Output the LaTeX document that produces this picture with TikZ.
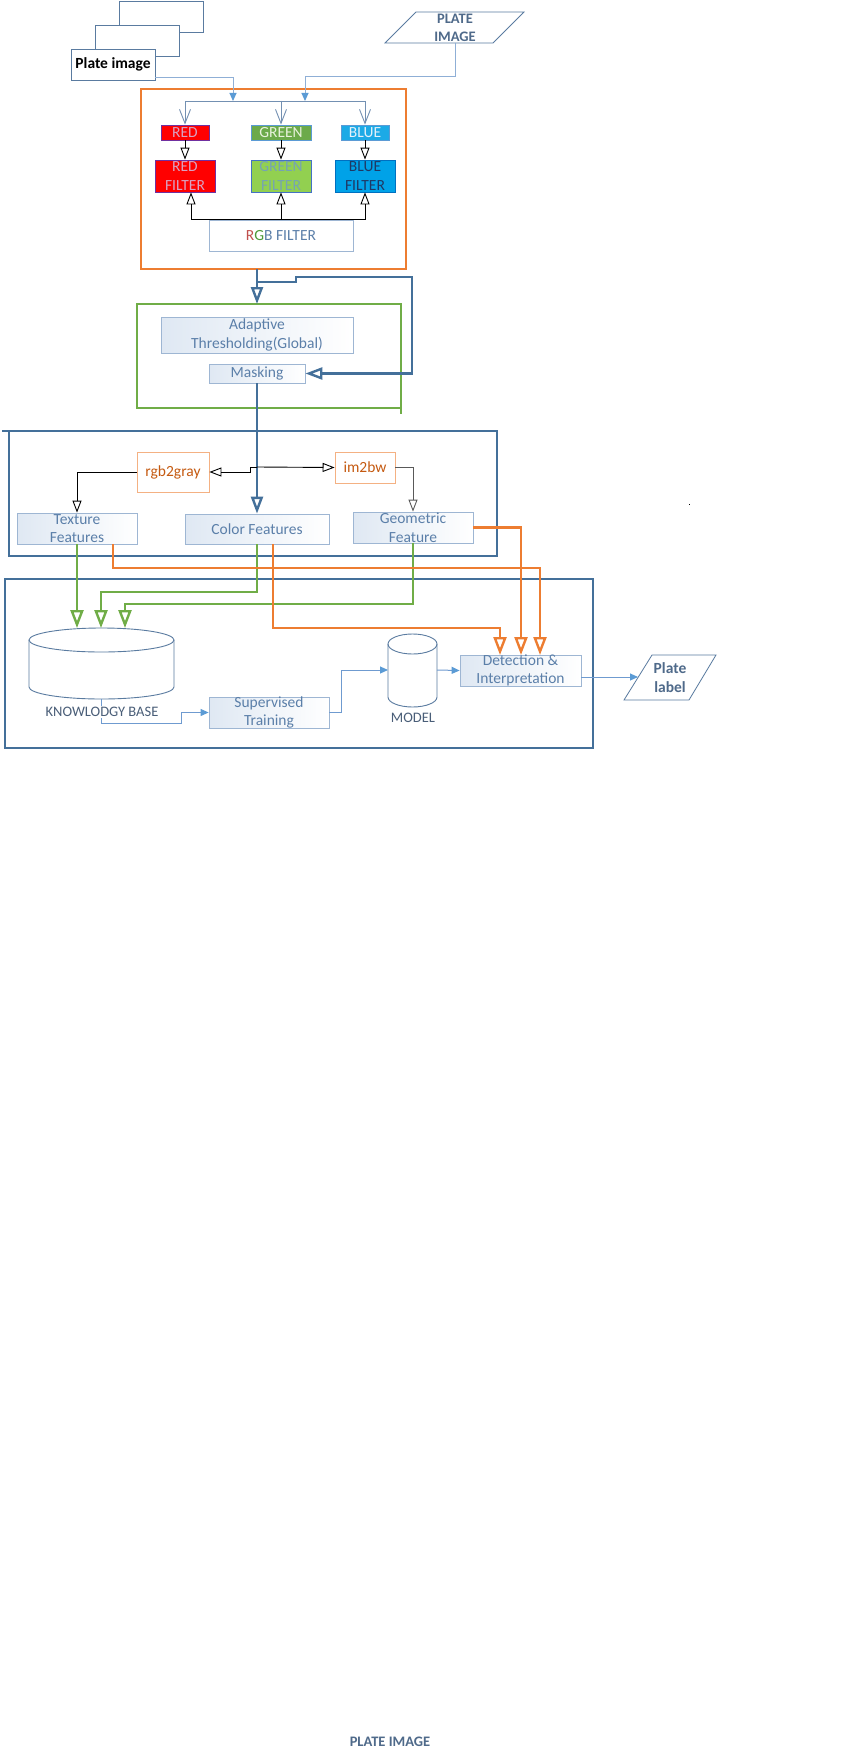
\documentclass[tikz,border=0pt]{standalone}
\usepackage{fontspec}
\setmainfont{Carlito}
\usepackage{tikz}
\usetikzlibrary{arrows.meta}
\definecolor{orng}{HTML}{ED7D31}
\definecolor{bframe}{HTML}{44709A}
\definecolor{gframe}{HTML}{70AD47}
\definecolor{lconn}{HTML}{8FAFD6}
\definecolor{cconn}{HTML}{6F9BD0}
\definecolor{tipfill}{HTML}{5B9BD5}
\definecolor{barbline}{HTML}{7390B2}
\definecolor{boxline}{HTML}{9EB6D3}
\definecolor{boxfill}{HTML}{DFE8F3}
\definecolor{txtblue}{HTML}{5B7FA9}
\definecolor{slate}{HTML}{4F6A8A}
\definecolor{lblgray}{HTML}{4A5E78}
\definecolor{pageline}{HTML}{5A7BA0}
\definecolor{ftline}{HTML}{F4B183}
\definecolor{fttext}{HTML}{C55A11}
\definecolor{redtxt}{HTML}{D9A2C2}
\definecolor{redline}{HTML}{7030A0}
\definecolor{grnfill}{HTML}{6CAA4A}
\definecolor{grntxt}{HTML}{E8F2DC}
\definecolor{bluefill}{HTML}{1CAAE6}
\definecolor{bluetxt}{HTML}{E4F1FA}
\definecolor{bluebord}{HTML}{5B9BD5}
\definecolor{gfiltfill}{HTML}{92D050}
\definecolor{gfilttxt}{HTML}{76A3B3}
\definecolor{gfiltbord}{HTML}{4472C4}
\definecolor{bfiltfill}{HTML}{00A2E8}
\definecolor{bfilttxt}{HTML}{1F3864}
\definecolor{bfiltbord}{HTML}{0070C0}
\definecolor{rgbr}{HTML}{C0504D}
\definecolor{rgbg}{HTML}{4E9A3A}
\definecolor{darkgray}{HTML}{595959}
\newcommand{\dgfont}{\fontsize{15.5}{18.5}\selectfont}
\newcommand{\smfont}{\fontsize{14.5}{18}\selectfont}

\begin{document}
\begin{tikzpicture}[x=1pt,y=-1pt,
  page/.style={draw=pageline, line width=0.8pt, fill=white, minimum width=84pt, minimum height=31pt, inner sep=0pt},
  procbox/.style={draw=boxline, line width=0.8pt, left color=boxfill, right color=white, inner sep=0pt},
  txt/.style={text=txtblue, font=\dgfont, align=center, inner sep=0pt},
  ftbox/.style={draw=ftline, line width=0.8pt, fill=white, text=fttext, font=\dgfont, inner sep=0pt},
  colbox/.style={line width=0.8pt, font=\dgfont, align=center, inner sep=0pt},
  lbl/.style={text=lblgray, font=\smfont, inner sep=1pt, fill=white},
  cyl/.style={draw=pageline, line width=0.9pt},
  lline/.style={draw=lconn, line width=1pt},
  cline/.style={draw=cconn, line width=1pt},
  blk/.style={draw=black, line width=0.9pt},
  bline/.style={draw=bframe, line width=2.4pt},
  gline/.style={draw=gframe, line width=2.4pt},
  oline/.style={draw=orng, line width=2.4pt},
  smalltip/.style={-{Triangle[length=8pt,width=7pt,color=tipfill]}},
  barb/.style={-{Straight Barb[length=14pt,width=11pt]}},
  opentip/.style={-{Triangle[open,length=12pt,width=9pt]}},
  bigtip/.style={-{Triangle[open,length=17pt,width=12pt]}},
  coltip/.style={-{Triangle[open,length=18pt,width=13pt]}}]
  %
  \fill[white] (0,0) rectangle (861,1758);
  %
  % PLATE IMAGES (stacked pages)
  \node[page] (pg3) at (161,16.5) {};
  \node[page] (pg2) at (137,40.5) {};
  \node[page, font=\dgfont\bfseries, text=black] (plateimg) at (113,64.5) {Plate image};
  % PLATE IMAGE input
  \draw[pageline, line width=0.8pt] (416,12) -- (524,12) -- (493,43) -- (385,43) -- cycle;
  \node[font=\smfont\bfseries, text=slate, align=center, inner sep=0pt] (plateIn) at (455,27.5) {PLATE\\IMAGE};
  \coordinate (plateInB) at (455,43);
  %
  % RGB FILTER
  \draw[oline] (141,89) rectangle (406,269);
  \coordinate (dist) at (281,101);
  \coordinate (inA) at (233,101);
  \coordinate (inB) at (305,101);
  \coordinate (rgbS) at (257,269);
  \node[colbox, draw=redline, fill=red, text=redtxt, minimum width=48pt, minimum height=15pt] (red) at (185,132.5) {RED};
  \node[colbox, draw=bluebord, fill=grnfill, text=grntxt, minimum width=60pt, minimum height=15pt] (green) at (281,132.5) {GREEN};
  \node[colbox, draw=bluebord, fill=bluefill, text=bluetxt, minimum width=48pt, minimum height=15pt] (blue) at (365,132.5) {BLUE};
  \node[colbox, draw=redline, fill=red, minimum width=60pt, minimum height=32pt] (fred) at (185,176) {};
  \node[txt, text=redtxt] at (fred) {RED\\FILTER};
  \node[colbox, draw=gfiltbord, fill=gfiltfill, minimum width=60pt, minimum height=32pt] (fgreen) at (281,176) {};
  \node[txt, text=gfilttxt] at (fgreen) {GREEN\\FILTER};
  \node[colbox, draw=bfiltbord, fill=bfiltfill, minimum width=60pt, minimum height=32pt] (fblue) at (365,176) {};
  \node[txt, text=bfilttxt] at (fblue) {BLUE\\FILTER};
  \node[colbox, draw=boxline, fill=white, text=txtblue, minimum width=144pt, minimum height=31pt] (rgbF) at (281,235.5) {{\color{rgbr}R}{\color{rgbg}G}B FILTER};
  %
  \draw[lline, smalltip] ([yshift=3pt]plateimg.south east) -| (inA);
  \draw[lline, smalltip] (plateInB) |- ([yshift=24pt]inB) -- (inB);
  \draw[barbline, line width=0.9pt] (red.north |- dist) -- (blue.north |- dist);
  \foreach \c in {red,green,blue}
    \draw[barbline, line width=0.9pt, barb] (\c.north |- dist) -- (\c.north);
  \foreach \c in {red,green,blue}
    \draw[blk, opentip] (\c.south) -- (f\c.north);
  \draw[blk, opentip] (rgbF.north) -| ([xshift=6pt]fred.south);
  \draw[blk, opentip] (rgbF.north) -- (fgreen.south);
  \draw[blk, opentip] (rgbF.north) -| (fblue.south);
  %
  % THRESHOLDING
  \draw[gline] (137,304) rectangle (401,408);
  \draw[gline] (401,408) -- (401,414);
  \node[procbox, minimum width=192pt, minimum height=36pt] (thresh) at (257,335) {};
  \node[txt] at (thresh) {Adaptive\\Thresholding(Global)};
  \node[procbox, txt, minimum width=96pt, minimum height=19pt] (mask) at (257,373.5) {Masking};
  \coordinate (thN) at (257,304);
  \coordinate (fb) at (257,282);
  \draw[bline, bigtip] (rgbS) -- (thN);
  \draw[bline, bigtip] (fb) -- ++(39,0) -- ++(0,-5) -- ++(116,0) |- (mask.east);
  %
  % FEATURES
  \draw[bline] (2,431) -- (497,431) -- (497,556) -- (9,556) -- (9,431);
  \node[ftbox, minimum width=72pt, minimum height=40pt] (gray) at (173,472) {rgb2gray};
  \node[ftbox, minimum width=60pt, minimum height=31pt] (bw) at (365,467.5) {im2bw};
  \node[procbox, minimum width=120pt, minimum height=31pt] (tex) at (77,528.5) {};
  \node[txt] at (tex) {Texture\\Features};
  \node[procbox, txt, minimum width=144pt, minimum height=30pt] (col) at (257,529) {Color Features};
  \node[procbox, minimum width=120pt, minimum height=31pt] (geo) at (413,527.5) {};
  \node[txt] at (geo) {Geometric\\Feature};
  \coordinate (sp) at (257,467);
  \draw[bline, bigtip] (mask.south) -- (col.north);
  \draw[blk, opentip] (sp) -- (bw.west);
  \draw[blk, opentip] (sp) -- ++(-7,0) -- ++(0,5) -- (gray.east);
  \draw[blk, opentip] (gray.west) -| (tex.north);
  \draw[darkgray, line width=0.9pt, opentip] (bw.east) -| (geo.north);
  %
  % KNOWLEDGE BASE AND DETECTION
  \draw[bline] (5,579) rectangle (593,748);
  \draw[cyl] (29,640) -- (29,687) arc[start angle=180, end angle=0, x radius=72.5, y radius=12] -- (174,640);
  \draw[cyl] (101.5,640) ellipse [x radius=72.5, y radius=12];
  \draw[cyl] (388,644) -- (388,697) arc[start angle=180, end angle=0, x radius=24.5, y radius=10] -- (437,644);
  \draw[cyl] (412.5,644) ellipse [x radius=24.5, y radius=10];
  \coordinate (kbB) at (101,699);
  \coordinate (modW) at (388,670);
  \coordinate (modE) at (437,670);
  \coordinate (kbin1) at (77,628);
  \coordinate (kbin2) at (101,628);
  \coordinate (kbin3) at (125,628);
  \coordinate (detin1) at (500,655);
  \coordinate (detin2) at (521,655);
  \coordinate (detin3) at (540,655);
  \node[procbox, minimum width=120pt, minimum height=31pt] (sup) at (269,712.5) {};
  \node[txt] at (sup) {Supervised\\Training};
  \node[procbox, minimum width=121pt, minimum height=31pt] (det) at (520.5,670.5) {};
  \node[txt] at (det) {Detection \&\\Interpretation};
  \draw[pageline, line width=0.8pt] (652,655) -- (716,655) -- (689,700) -- (624,700) -- cycle;
  \node[font=\dgfont\bfseries, text=slate, align=center, inner sep=0pt] (platelbl) at (670,677.5) {Plate\\label};
  \coordinate (plW) at (638,677);
  %
  \draw[cline, smalltip] (kbB) -- ++(0,24) -| ([xshift=-27pt]sup.west) -- (sup.west);
  \node[lbl] (kblbl) at (102,712) {KNOWLODGY BASE};
  \node[lbl] (modlbl) at (413,718) {MODEL};
  \draw[cline, smalltip] (sup.east) -- ++(12,0) |- (modW);
  \draw[cline, smalltip] (modE) -- (det.west);
  \draw[cline, smalltip] ([yshift=-6.5pt]det.east) -- (plW);
  %
  % FEATURE LINKS
  \draw[gline, coltip] (tex.south) -- (kbin1);
  \draw[gline, coltip] (col.south) |- ([yshift=36pt]kbin2) -- (kbin2);
  \draw[gline, coltip] (geo.south) |- ([yshift=24pt]kbin3) -- (kbin3);
  \draw[oline, coltip] ([xshift=16pt]col.south) |- ([yshift=27pt]detin1) -- (detin1);
  \draw[oline, coltip] (geo.east) -| (detin2);
  \draw[oline, coltip] ([xshift=36pt]tex.south) |- ([yshift=87pt]detin3) -- (detin3);
  %
  \fill[black] (688.5,503.5) rectangle ++(1.5,1.5);
  \node[font=\smfont\bfseries, text=slate, inner sep=0pt] (plateOut) at (390,1742) {PLATE IMAGE};
  %
\end{tikzpicture}
\end{document}
